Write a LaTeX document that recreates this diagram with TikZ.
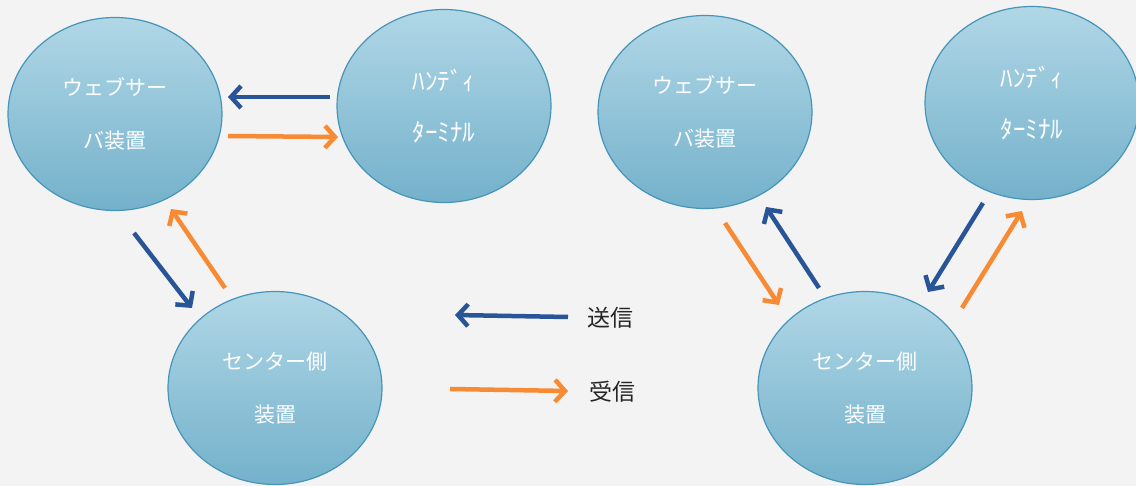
\documentclass[tikz,border=0pt]{standalone}
\usepackage{fontspec}
\newfontfamily\jpfont{Noto Sans CJK JP}
\usetikzlibrary{shapes.geometric,arrows.meta}

\definecolor{bubbletop}{RGB}{176,215,230}
\definecolor{bubblebot}{RGB}{116,177,203}
\definecolor{bubbleline}{RGB}{70,148,186}
\definecolor{sendblue}{RGB}{40,84,152}
\definecolor{recvorange}{RGB}{247,138,50}
\definecolor{paper}{RGB}{243,243,243}

\tikzset{
  bubble/.style={ellipse, draw=bubbleline, line width=1.2pt,
    top color=bubbletop, bottom color=bubblebot,
    minimum width=214pt, minimum height=193pt, inner sep=0pt,
    text=white, align=center, font=\jpfont\fontsize{21}{53}\selectfont},
  halfkana/.style={font=\jpfont\fontsize{25}{51}\selectfont},
  send/.style={draw=sendblue, line width=4.5pt, -{Straight Barb[length=10pt,width=22pt]}},
  recv/.style={draw=recvorange, line width=4.5pt, -{Straight Barb[length=10pt,width=22pt]}},
  legendtext/.style={anchor=west, text=black!85, font=\jpfont\fontsize{23}{23}\selectfont},
}

\begin{document}
\begin{tikzpicture}
    \pgfsetxvec{\pgfpoint{1pt}{0}}
    \pgfsetyvec{\pgfpoint{0}{-1pt}}

    \fill[paper] (0,0) rectangle (1136,486);
    \useasboundingbox (0,0) rectangle (1136,486);

    % left group
    \node[bubble] (web1) at (115,114) {ウェブサー\\バ装置};
    \node[bubble, halfkana] (hand1) at (444,106) {ﾊﾝﾃﾞｨ\\ﾀｰﾐﾅﾙ};
    \node[bubble] (ctr1) at (275,388) {センター側\\装置};

    % right group
    \node[bubble] (web2) at (705,112) {ウェブサー\\バ装置};
    \node[bubble, halfkana] (hand2) at (1032,103) {ﾊﾝﾃﾞｨ\\ﾀｰﾐﾅﾙ};
    \node[bubble] (ctr2) at (865,388) {センター側\\装置};

    % legend
    \node[legendtext] (sendtxt) at (584,318) {送信};
    \node[legendtext] (recvtxt) at (586,392) {受信};

    % arrow ends
    \foreach \n/\px/\py in {hw1/330/97, wh1/228/97, wh2/228/136, hw2/338/137,
        wc1/134/233, cw1/192/308, cw2/225/288, wc2/171/209,
        wc3/725/223, cw3/779/305, cw4/819/288, wc4/766/207,
        hc1/983/203, ch1/928/292, ch2/962/308, hc2/1022/211,
        ls1/568/317, ls2/455/315, lr1/450/389, lr2/568/391} {
      \coordinate (\n) at (\px,\py);
    }

    \foreach \a/\b in {hw1/wh1, wc1/cw1, cw4/wc4, hc1/ch1, ls1/ls2} {
      \draw[send] (\a) -- (\b);
    }
    \foreach \a/\b in {wh2/hw2, cw2/wc2, wc3/cw3, ch2/hc2, lr1/lr2} {
      \draw[recv] (\a) -- (\b);
    }
\end{tikzpicture}
\end{document}
